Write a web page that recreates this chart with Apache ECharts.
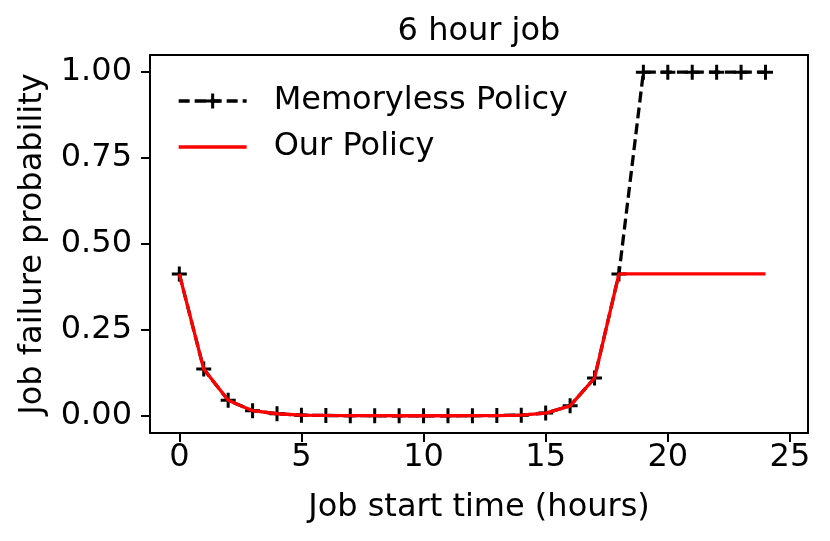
<!DOCTYPE html>
<html><head><meta charset="utf-8">
<script src="https://cdn.jsdelivr.net/npm/echarts@6/dist/echarts.min.js"></script>
<style>html,body{margin:0;padding:0;background:#fff}#c{width:830px;height:541px}</style>
</head><body><div id="c"></div>
<script>
const hours = [0,1,2,3,4,5,6,7,8,9,10,11,12,13,14,15,16,17,18,19,20,21,22,23,24];
const memoryless = [0.413,0.136,0.045,0.015,0.006,0.002,0.001,0.0005,0.0003,0.0002,0.0002,0.0002,0.0003,0.0006,0.002,0.008,0.029,0.11,0.413,1,1,1,1,1,1];
const ourPolicy = [0.413,0.136,0.045,0.015,0.006,0.002,0.001,0.0005,0.0003,0.0002,0.0002,0.0002,0.0003,0.0006,0.002,0.008,0.029,0.11,0.413,0.413,0.413,0.413,0.413,0.413,0.413];
const xTicks = [0,5,10,15,20,25];
const yTicks = [0,0.25,0.5,0.75,1.0];

const plus = 'path://M4,0h2v4h4v2h-4v4h-2v-4h-4v-2h4z';
const font = 'DejaVu Sans';
const fs = 32;
const chart = echarts.init(document.getElementById('c'), null, {renderer:'canvas'});
chart.setOption({
  animation:false,
  textStyle:{fontFamily:font},
  title:{text:'6 hour job', left:474, top:11, textAlign:'center',
    textStyle:{fontFamily:font, fontSize:fs, fontWeight:'normal', color:'#000'}},
  grid:{left:150, right:22, top:55, bottom:108, show:true, borderColor:'#000', borderWidth:2, containLabel:false},
  legend:{left:177, top:85, padding:0, orient:'vertical', itemGap:14, itemWidth:68, itemHeight:19,
    textStyle:{fontFamily:font, fontSize:fs, color:'#000', padding:[0,0,0,22]},
    data:[{name:'Memoryless Policy', lineStyle:{width:3.3}},
          {name:'Our Policy', itemStyle:{opacity:0}, lineStyle:{width:3.3}}]},
  xAxis:{type:'value', min:-1.2, max:25.74,
    name:'Job start time (hours)', nameLocation:'middle', nameGap:59,
    nameTextStyle:{fontFamily:font, fontSize:fs, color:'#000'},
    axisLine:{show:true, onZero:false, lineStyle:{color:'#000', width:2}},
    axisTick:{show:true, inside:false, length:9, customValues:xTicks, lineStyle:{color:'#000', width:2}},
    axisLabel:{customValues:xTicks, fontFamily:font, fontSize:fs, color:'#000', margin:9},
    splitLine:{show:false}},
  yAxis:{type:'value', min:-0.05, max:1.05,
    name:'Job failure probability', nameLocation:'middle', nameGap:101, nameRotate:90,
    nameTextStyle:{fontFamily:font, fontSize:fs, color:'#000'},
    axisLine:{show:true, onZero:false, lineStyle:{color:'#000', width:2}},
    axisTick:{show:true, inside:false, length:9, customValues:yTicks, lineStyle:{color:'#000', width:2}},
    axisLabel:{customValues:yTicks, fontFamily:font, fontSize:fs, color:'#000', margin:18,
      formatter:v=>v.toFixed(2)},
    splitLine:{show:false}},
  series:[
    {name:'Memoryless Policy', type:'line', data:hours.map((h,i)=>[h,memoryless[i]]),
     symbol:plus, symbolSize:15, showAllSymbol:true,
     itemStyle:{color:'#000'}, lineStyle:{color:'#000', width:3.3, type:[11,5]}, z:2},
    {name:'Our Policy', type:'line', data:hours.map((h,i)=>[h,ourPolicy[i]]),
     symbol:'none', itemStyle:{color:'#ff0000'}, lineStyle:{color:'#ff0000', width:3.3}, z:3}
  ]
});
</script></body></html>
